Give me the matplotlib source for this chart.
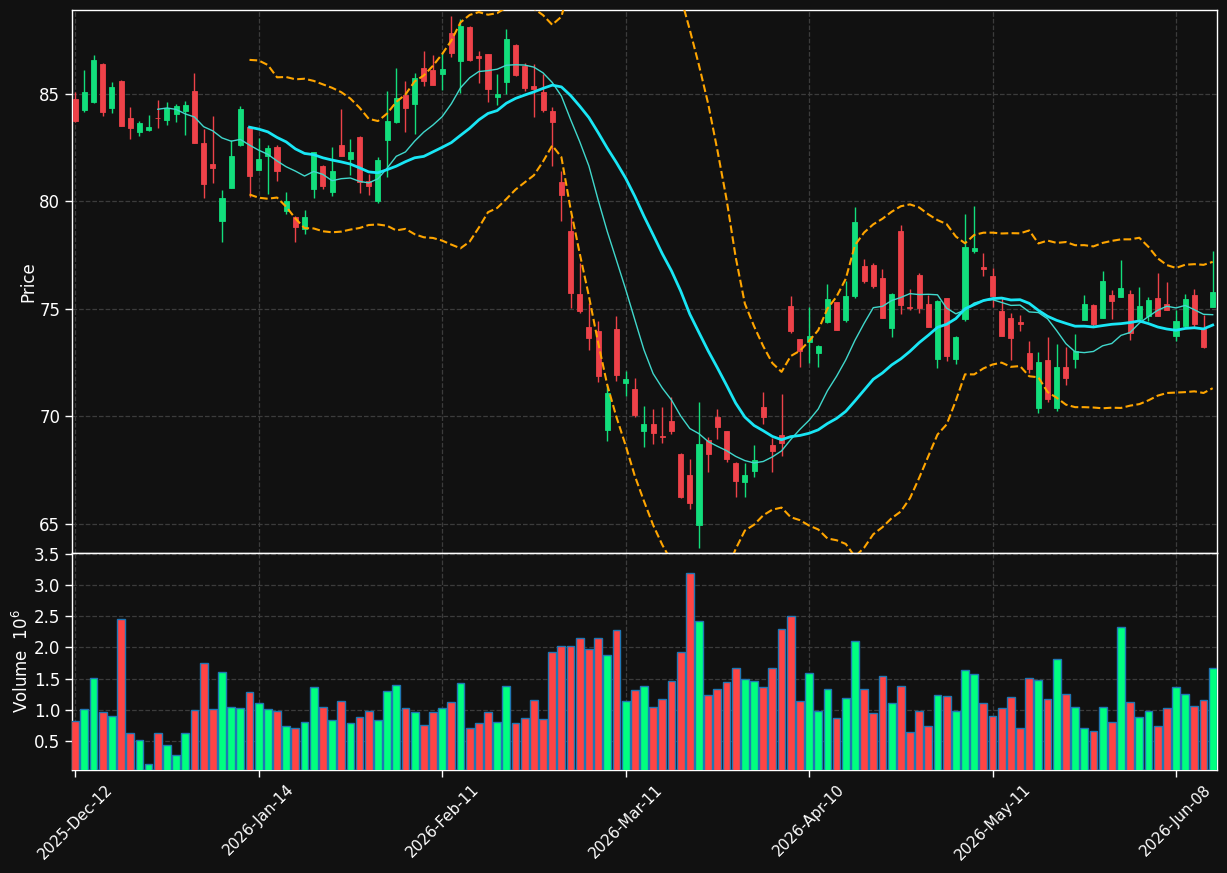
import numpy as np
import pandas as pd
import matplotlib
matplotlib.use('Agg')
import matplotlib.pyplot as plt

opens = [84.77, 84.26, 84.63, 86.40, 84.36, 85.60, 83.88, 83.23, 83.33, 83.88,
         83.79, 84.08, 84.21, 85.14, 82.72, 81.74, 79.09, 80.64, 82.63, 83.45,
         81.47, 82.12, 82.55, 79.56, 79.29, 78.72, 80.58, 81.65, 80.46, 82.63,
         81.96, 83.00, 80.95, 80.02, 82.86, 83.67, 84.95, 84.55, 86.20, 86.12,
         85.94, 87.84, 86.51, 88.12, 86.76, 86.84, 84.85, 85.54, 87.29, 86.30,
         85.36, 85.08, 84.19, 80.90, 78.63, 75.70, 74.15, 73.99, 69.36, 74.07,
         71.55, 71.26, 69.30, 69.65, 69.08, 69.79, 68.26, 67.28, 64.95, 68.91,
         69.99, 69.33, 67.85, 66.95, 67.48, 70.46, 68.68, 69.14, 75.14, 73.59,
         73.48, 72.97, 74.37, 75.31, 74.50, 75.60, 77.00, 77.05, 76.44, 74.09,
         78.63, 75.10, 76.58, 75.23, 72.66, 75.51, 72.69, 74.52, 77.71, 76.94,
         76.52, 74.91, 74.57, 74.39, 72.95, 70.41, 72.63, 70.41, 72.30, 72.69,
         74.49, 75.17, 74.60, 75.64, 75.57, 75.68, 74.55, 74.67, 75.49, 75.23,
         73.74, 74.22, 75.65, 74.05, 75.11]
highs = [85.11, 86.12, 86.81, 86.42, 85.54, 85.65, 84.38, 83.74, 84.01, 84.71,
         84.63, 84.52, 84.66, 85.96, 83.36, 83.98, 80.52, 82.86, 84.44, 83.51,
         82.94, 82.63, 82.60, 80.46, 79.30, 79.60, 82.30, 81.70, 82.52, 84.29,
         82.89, 83.02, 81.28, 82.06, 85.14, 86.20, 85.62, 85.96, 86.99, 86.80,
         86.89, 88.60, 88.50, 88.15, 87.00, 86.86, 85.94, 88.02, 87.30, 86.43,
         86.40, 85.94, 84.40, 81.42, 79.28, 77.13, 75.29, 74.45, 71.47, 74.67,
         72.12, 71.80, 70.49, 70.33, 70.43, 70.89, 68.32, 68.01, 70.69, 69.03,
         70.33, 69.34, 67.87, 67.82, 68.68, 71.12, 68.99, 71.03, 75.61, 73.62,
         75.11, 73.31, 76.15, 75.33, 76.32, 79.73, 77.31, 77.12, 76.85, 75.72,
         78.91, 75.91, 76.66, 75.64, 75.40, 75.53, 73.72, 79.42, 79.79, 77.59,
         76.88, 75.50, 74.80, 74.70, 73.51, 72.98, 73.68, 73.36, 73.25, 73.82,
         75.64, 75.23, 76.78, 75.88, 77.29, 75.88, 76.00, 75.57, 76.69, 76.27,
         74.95, 75.68, 75.91, 74.72, 77.68]
lows = [83.70, 84.18, 84.57, 83.99, 84.10, 83.50, 82.89, 83.06, 83.29, 83.43,
        83.57, 83.67, 83.11, 82.70, 80.15, 80.85, 78.10, 80.60, 82.58, 80.22,
        81.47, 80.33, 80.97, 79.42, 78.13, 78.47, 80.18, 80.58, 80.26, 82.10,
        81.23, 80.41, 80.30, 79.92, 81.13, 83.64, 83.22, 83.14, 85.37, 85.40,
        85.19, 86.73, 85.05, 86.54, 85.50, 84.64, 84.48, 85.00, 85.81, 85.13,
        83.91, 84.15, 81.63, 79.07, 75.05, 74.79, 73.10, 71.59, 68.87, 71.63,
        70.93, 69.98, 68.57, 68.71, 68.75, 69.17, 66.20, 65.68, 63.87, 67.43,
        68.94, 67.90, 66.27, 66.24, 67.20, 69.65, 67.40, 68.18, 73.90, 72.32,
        72.50, 72.29, 74.34, 74.02, 74.38, 75.53, 76.22, 75.96, 74.58, 73.68,
        74.75, 74.95, 74.80, 74.16, 72.24, 72.60, 72.43, 74.46, 77.62, 76.55,
        75.11, 73.74, 72.63, 73.96, 72.04, 70.15, 70.69, 70.27, 71.45, 72.24,
        74.47, 74.21, 74.58, 74.52, 75.55, 73.56, 74.49, 74.46, 74.67, 74.93,
        73.51, 74.18, 74.18, 73.20, 75.09]
closes = [83.74, 85.09, 86.58, 84.18, 85.33, 83.51, 83.43, 83.65, 83.47, 83.86,
          84.33, 84.44, 84.49, 82.73, 80.83, 81.57, 80.16, 82.12, 84.30, 81.20,
          81.98, 82.50, 81.42, 80.02, 78.83, 79.27, 82.29, 80.72, 81.40, 82.13,
          82.30, 80.92, 80.73, 81.93, 83.74, 84.81, 84.32, 85.73, 85.62, 85.42,
          86.16, 86.91, 88.17, 86.59, 86.66, 85.23, 84.98, 87.57, 85.86, 85.26,
          85.21, 84.24, 83.70, 80.30, 75.76, 74.89, 73.67, 71.88, 71.11, 71.93,
          71.72, 70.06, 69.65, 69.25, 69.05, 69.34, 66.27, 65.99, 68.72, 68.27,
          69.53, 68.02, 67.00, 67.28, 67.98, 69.99, 68.41, 68.78, 73.98, 73.02,
          73.75, 73.28, 75.47, 74.04, 75.60, 79.05, 76.32, 76.07, 74.60, 75.70,
          75.20, 75.06, 75.02, 74.18, 75.36, 72.83, 73.70, 77.87, 77.82, 76.85,
          75.60, 73.76, 73.67, 74.32, 72.19, 72.53, 70.81, 72.30, 71.81, 73.06,
          75.23, 74.30, 76.30, 75.39, 75.96, 73.90, 75.14, 75.40, 74.69, 74.95,
          74.44, 75.46, 74.30, 73.25, 75.79]
volumes = [0.83, 1.02, 1.51, 0.97, 0.91, 2.46, 0.64, 0.52, 0.14, 0.64,
           0.44, 0.28, 0.64, 1.00, 1.75, 1.02, 1.61, 1.05, 1.04, 1.29,
           1.12, 1.02, 0.99, 0.75, 0.72, 0.81, 1.37, 1.05, 0.84, 1.15,
           0.80, 0.89, 0.99, 0.84, 1.31, 1.40, 1.04, 0.97, 0.76, 0.97,
           1.04, 1.13, 1.43, 0.72, 0.80, 0.97, 0.81, 1.39, 0.80, 0.87,
           1.16, 0.86, 1.93, 2.03, 2.03, 2.15, 1.97, 2.15, 1.88, 2.28,
           1.15, 1.32, 1.39, 1.05, 1.18, 1.47, 1.93, 3.19, 2.43, 1.24,
           1.34, 1.45, 1.67, 1.50, 1.47, 1.37, 1.67, 2.30, 2.50, 1.15,
           1.59, 0.99, 1.34, 0.87, 1.20, 2.10, 1.34, 0.96, 1.55, 1.11,
           1.39, 0.65, 0.99, 0.75, 1.24, 1.23, 0.99, 1.64, 1.58, 1.12,
           0.91, 1.04, 1.21, 0.72, 1.51, 1.48, 1.18, 1.82, 1.26, 1.05,
           0.72, 0.67, 1.05, 0.81, 2.33, 1.13, 0.89, 0.99, 0.75, 1.04,
           1.37, 1.26, 1.07, 1.16, 1.67]
tick_labels = ['2025-Dec-12', '2026-Jan-14', '2026-Feb-11', '2026-Mar-11',
               '2026-Apr-10', '2026-May-11', '2026-Jun-08']
tick_step = 20

# indicators derived from the closes (as in the original chart)
cs = pd.Series(closes)
ma10 = cs.rolling(10).mean()
ma20 = cs.rolling(20).mean()
sd20 = cs.rolling(20).std(ddof=0)
bb_up = ma20 + 2 * sd20
bb_lo = ma20 - 2 * sd20

BG = '#111111'
UP, DN = '#12de7c', '#ee4249'
VUP, VDN = '#00ff80', '#ff4444'
GRID = '#3c3c3c'

plt.rcParams['font.family'] = ['DejaVu Sans']
fig = plt.figure(figsize=(12.27, 8.73), dpi=100, facecolor=BG)
L, W = 72 / 1227, 1145 / 1227
ax = fig.add_axes([L, 320 / 873, W, 543 / 873], facecolor=BG)
axv = fig.add_axes([L, 103 / 873, W, 217 / 873], facecolor=BG, sharex=ax)

x = np.arange(len(closes))
o = np.array(opens); c = np.array(closes); h = np.array(highs); l = np.array(lows)
up = c >= o
cols = np.where(up, UP, DN)
ax.vlines(x, l, h, colors=cols, linewidth=1.0, zorder=2)
ax.bar(x, np.abs(c - o), bottom=np.minimum(o, c), width=0.55, color=cols,
       edgecolor=cols, linewidth=0.6, zorder=3)

ax.plot(x, ma10, color='#40d8cc', linewidth=1.0, zorder=4)
ax.plot(x, ma20, color='#19e6f5', linewidth=2.0, zorder=4)
ax.plot(x, bb_up, color='#ffa500', linewidth=1.5, linestyle='--', zorder=4)
ax.plot(x, bb_lo, color='#ffa500', linewidth=1.5, linestyle='--', zorder=4)

vcols = np.where(up, VUP, VDN)
axv.bar(x, volumes, width=0.85, color=vcols, edgecolor='#1f77b4', linewidth=1.0, zorder=3)

ticks = list(range(0, len(closes), tick_step))
ax.set_xlim(-0.35, len(closes) - 0.53)
ax.set_ylim(63.65, 88.9)
axv.set_ylim(0.3 * min(volumes), 1.1 * max(volumes))
ax.set_yticks([65, 70, 75, 80, 85])
axv.set_yticks([0.5, 1.0, 1.5, 2.0, 2.5, 3.0, 3.5])
axv.set_xticks(ticks)
axv.set_xticklabels(tick_labels, rotation=45, ha='center')

for a in (ax, axv):
    a.grid(True, linestyle='--', color=GRID, linewidth=0.9, zorder=0)
    a.set_axisbelow(True)
    for s in a.spines.values():
        s.set_color('white')
        s.set_linewidth(1.0)
    a.tick_params(colors='white', labelcolor='white', labelsize=12, length=5, width=1)
ax.tick_params(axis='x', bottom=False, labelbottom=False)
axv.tick_params(axis='x', labelsize=11)

ax.set_ylabel('Price', color='white', fontsize=12)
axv.set_ylabel(r'Volume  $10^{6}$', color='white', fontsize=12)
ax.yaxis.set_label_coords(-0.030, 0.5)
axv.yaxis.set_label_coords(-0.035, 0.5)

fig.savefig('out.png', dpi=100, facecolor=BG)
